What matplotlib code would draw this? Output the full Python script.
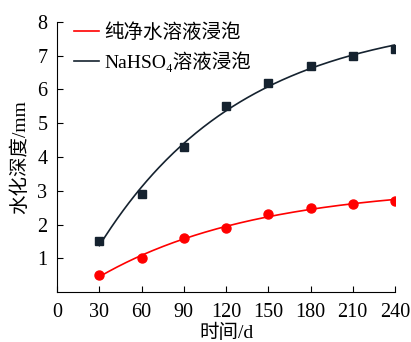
import numpy as np
import matplotlib
matplotlib.use("Agg")
import matplotlib.pyplot as plt

plt.rcParams['font.family'] = ['Liberation Serif', 'Noto Sans CJK SC']

days = [30, 60, 90, 120, 150, 180, 210, 240]
water = [0.5, 1.0, 1.6, 1.9, 2.3, 2.5, 2.6, 2.7]
nahso4 = [1.5, 2.9, 4.3, 5.5, 6.2, 6.7, 7.0, 7.2]
xticks = [0, 30, 60, 90, 120, 150, 180, 210, 240]
yticks = [1, 2, 3, 4, 5, 6, 7, 8]

red = '#ff0000'
dark = '#15222f'


def fit_saturation(x, y):
    """Least-squares fit of y = A - B*exp(-x/t), scanning t."""
    best = None
    for t in np.linspace(20, 400, 761):
        M = np.column_stack([np.ones_like(x), -np.exp(-x / t)])
        coef, *_ = np.linalg.lstsq(M, y, rcond=None)
        err = np.sum((M @ coef - y) ** 2)
        if best is None or err < best[0]:
            best = (err, coef, t)
    _, (A, B), t = best
    return lambda v: A - B * np.exp(-v / t)


fig = plt.figure(figsize=(4.11, 3.42), dpi=100)
ax = fig.add_axes([0.139, 0.146, 0.822, 0.79])

x = np.array(days, dtype=float)
xs = np.linspace(30, 240, 200)

# saturating exponential fits of both series
fw = fit_saturation(x, np.array(water))
ax.plot(xs, fw(xs), color=red, lw=1.2, label='纯净水溶液浸泡')
fn = fit_saturation(x, np.array(nahso4))
ax.plot(xs, fn(xs), color=dark, lw=1.2, label='NaHSO₄溶液浸泡')

ax.plot(days, water, 'o', color=red, ms=6.5, mec=red)
ax.plot(days, nahso4, 's', color=dark, ms=5.5)

ax.set_xlim(0, 240)
ax.set_ylim(0, 8)
ax.set_xticks(xticks)
ax.set_yticks(yticks)
ax.spines['top'].set_visible(False)
ax.spines['right'].set_visible(False)
ax.tick_params(direction='in', labelsize=14.5, length=4)
ax.tick_params(axis='x', pad=8)
ax.tick_params(axis='y', pad=7)
ax.set_xlabel('时间/d', fontsize=14, labelpad=1)
ax.set_ylabel('水化深度/mm', fontsize=14, labelpad=6)

leg = ax.legend(loc='upper left', frameon=False, fontsize=14, handlelength=1.3,
                handletextpad=0.3, borderaxespad=0.1, labelspacing=0.45,
                bbox_to_anchor=(0.02, 1.03))

fig.savefig('out.png', dpi=100)
